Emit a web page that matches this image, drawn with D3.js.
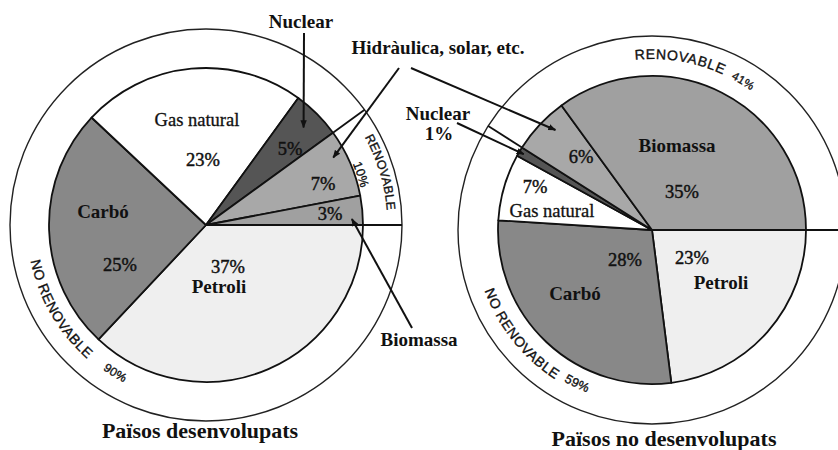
<!DOCTYPE html>
<html>
<head>
<meta charset="utf-8">
<script src="https://cdn.jsdelivr.net/npm/d3@7"></script>
<style>
body { margin: 0; background: #fff; }
svg { display: block; }
</style>
</head>
<body>
<script>
var sources = ['Petroli', 'Carbó', 'Gas natural', 'Nuclear', 'Hidràulica', 'Biomassa'];
var developed = [37, 25, 23, 5, 7, 3];
var developing = [23, 28, 7, 1, 6, 35];
var renewable = ['Hidràulica', 'Biomassa'];
var titles = ['Països desenvolupats', 'Països no desenvolupats'];

var w = 838;
var h = 450;

var color = d3.scaleOrdinal()
  .domain(sources)
  .range(['#efefef', '#888888', '#ffffff', '#555555', '#a8a8a8', '#a0a0a0']);

// layout of each pie; label offsets are relative to the pie centre
var charts = [
  {
    values: developed, title: titles[0], cx: 206, cy: 225, r: 157, R: 196,
    titleX: 200, titleY: 438, lineEnd: 196,
    labels: [
      {i: 0, name: [13, 61], pct: [22, 42]},
      {i: 1, name: [-103, -14], pct: [-86, 40]},
      {i: 2, name: [-9, -105], pct: [-3, -65]},
      {i: 3, pct: [84, -76]},
      {i: 4, pct: [117, -41]},
      {i: 5, pct: [124, -11]}
    ],
    ring: [
      {key: 'no', at: 150, r: 179, dir: -1, size: 14, ls: 0.5},
      {key: 'noPct', at: 121.5, r: 177.5, dir: -1, size: 12, ls: 0.3},
      {key: 'yes', at: 343.2, r: 181.5, dir: 1, size: 12.5, ls: 0.2},
      {key: 'yesPct', at: 342, r: 159, dir: 1, size: 12.5, ls: 0.2}
    ]
  },
  {
    values: developing, title: titles[1], cx: 652, cy: 230, r: 154, R: 194,
    titleX: 664, titleY: 446, lineEnd: 200,
    labels: [
      {i: 0, name: [69, 52], pct: [40, 28]},
      {i: 1, name: [-77, 63], pct: [-27, 30]},
      {i: 2, name: [-100, -19], pct: [-117, -43]},
      {i: 4, pct: [-71, -73]},
      {i: 5, name: [25, -85], pct: [30, -38]}
    ],
    ring: [
      {key: 'no', at: 141.5, r: 178, dir: -1, size: 14, ls: 0.5},
      {key: 'noPct', at: 116, r: 175, dir: -1, size: 12.5, ls: 0.3},
      {key: 'yes', at: 279.5, r: 171, dir: 1, size: 14, ls: 0.7},
      {key: 'yesPct', at: 301.5, r: 171, dir: 1, size: 11.5, ls: 0.3}
    ]
  }
];

// arrows: chart, slice index, position inside slice (fraction of angle), radius, tail
var arrows = [
  {c: 0, i: 3, t: 0.5, r: 138, from: [304, 33]},
  {c: 0, i: 4, t: 0.32, r: 144, from: [399, 68]},
  {c: 0, i: 5, t: 0.78, r: 146, from: [412, 328]},
  {c: 1, i: 3, t: 0.5, r: 149, from: [457, 123]},
  {c: 1, i: 4, t: 0.63, r: 139, from: [411, 68]}
];

var notes = [
  {text: 'Nuclear', x: 301, y: 28},
  {text: 'Hidràulica, solar, etc.', x: 438, y: 54},
  {text: 'Nuclear', x: 438, y: 120},
  {text: '1%', x: 439, y: 140},
  {text: 'Biomassa', x: 419, y: 346}
];

var serif = '"Liberation Serif", "Times New Roman", serif';

var svg = d3.select('body')
  .append('svg')
  .attr('width', w)
  .attr('height', h);

svg.append('defs').append('marker')
  .attr('id', 'arrow')
  .attr('viewBox', '0 0 10 10')
  .attr('refX', 9)
  .attr('refY', 5)
  .attr('markerWidth', 8)
  .attr('markerHeight', 8)
  .attr('markerUnits', 'userSpaceOnUse')
  .attr('orient', 'auto')
  .append('path')
  .attr('d', 'M0,1L10,5L0,9Z')
  .attr('fill', '#111');

var pie = d3.pie()
  .sort(null)
  .startAngle(Math.PI / 2)
  .endAngle(Math.PI / 2 + 2 * Math.PI);

// arc along the ring, angles in degrees clockwise from east
function arcD(cx, cy, r, a0, a1) {
  var rad = Math.PI / 180;
  var x0 = cx + r * Math.cos(a0 * rad), y0 = cy + r * Math.sin(a0 * rad);
  var x1 = cx + r * Math.cos(a1 * rad), y1 = cy + r * Math.sin(a1 * rad);
  var sweep = a1 > a0 ? 1 : 0;
  return 'M' + x0 + ',' + y0 + 'A' + r + ',' + r + ' 0 0 ' + sweep + ' ' + x1 + ',' + y1;
}

function polar(cx, cy, r, a) {
  return [cx + r * Math.sin(a), cy - r * Math.cos(a)];
}

var slicesByChart = [];

charts.forEach(function(c, ci) {
  var slices = pie(c.values);
  slicesByChart.push(slices);
  var g = svg.append('g');

  var renTotal = d3.sum(slices.filter(function(d, i) {
    return renewable.indexOf(sources[i]) >= 0;
  }), function(d) { return d.value; });
  var total = d3.sum(c.values);

  // outer ring
  g.append('circle')
    .attr('cx', c.cx)
    .attr('cy', c.cy)
    .attr('r', c.R)
    .attr('fill', '#fff')
    .attr('stroke', '#222')
    .attr('stroke-width', 1.4);

  // ring dividers: start of the pie and start of the renewable group
  var firstRen = slices[sources.indexOf(renewable[0])].startAngle;
  var p0 = polar(c.cx, c.cy, c.r, firstRen);
  var p1 = polar(c.cx, c.cy, c.R, firstRen);
  g.append('line')
    .attr('x1', p0[0]).attr('y1', p0[1])
    .attr('x2', p1[0]).attr('y2', p1[1])
    .attr('stroke', '#111')
    .attr('stroke-width', 1.8);
  g.append('line')
    .attr('x1', c.cx).attr('y1', c.cy)
    .attr('x2', c.cx + c.lineEnd).attr('y2', c.cy)
    .attr('stroke', '#111')
    .attr('stroke-width', 2);

  var arc = d3.arc().innerRadius(0).outerRadius(c.r);

  g.selectAll('path.slice')
    .data(slices)
    .enter()
    .append('path')
    .attr('class', 'slice')
    .attr('transform', 'translate(' + c.cx + ',' + c.cy + ')')
    .attr('d', arc)
    .attr('fill', function(d, i) { return color(sources[i]); })
    .attr('stroke', '#111')
    .attr('stroke-width', 1.8)
    .attr('stroke-linejoin', 'round');

  // slice labels
  c.labels.forEach(function(l) {
    var gas = sources[l.i] == 'Gas natural';
    if (l.name) {
      g.append('text')
        .attr('x', c.cx + l.name[0])
        .attr('y', c.cy + l.name[1])
        .attr('dy', '0.35em')
        .attr('text-anchor', 'middle')
        .attr('font-family', serif)
        .attr('font-size', gas ? '18.5px' : '19px')
        .attr('font-weight', gas ? 'normal' : 'bold')
        .attr('fill', '#111')
        .attr('stroke', gas ? '#111' : 'none')
        .attr('stroke-width', 0.3)
        .text(sources[l.i]);
    }
    g.append('text')
      .attr('x', c.cx + l.pct[0])
      .attr('y', c.cy + l.pct[1])
      .attr('dy', '0.35em')
      .attr('text-anchor', 'middle')
      .attr('font-family', serif)
      .attr('font-size', '18.5px')
      .attr('fill', '#111')
      .attr('stroke', '#111')
      .attr('stroke-width', 0.45)
      .text(c.values[l.i] + '%');
  });

  // ring texts
  var ringText = {
    no: 'NO RENOVABLE',
    noPct: (total - renTotal) + '%',
    yes: 'RENOVABLE',
    yesPct: renTotal + '%'
  };
  c.ring.forEach(function(rt, k) {
    var id = 'ring' + ci + '_' + k;
    g.append('path')
      .attr('id', id)
      .attr('d', arcD(c.cx, c.cy, rt.r, rt.at - rt.dir * 60, rt.at + rt.dir * 60))
      .attr('fill', 'none');
    g.append('text')
      .attr('font-family', '"Liberation Sans", Arial, sans-serif')
      .attr('font-size', rt.size + 'px')
      .attr('letter-spacing', rt.ls)
      .attr('fill', '#111')
      .attr('stroke', '#111')
      .attr('stroke-width', 0.35)
      .attr('text-anchor', 'middle')
      .append('textPath')
      .attr('href', '#' + id)
      .attr('startOffset', '50%')
      .text(ringText[rt.key]);
  });

  // title
  svg.append('text')
    .attr('x', c.titleX)
    .attr('y', c.titleY)
    .attr('text-anchor', 'middle')
    .attr('font-family', serif)
    .attr('font-size', '22px')
    .attr('font-weight', 'bold')
    .attr('fill', '#111')
    .text(c.title);
});

// pointer lines
arrows.forEach(function(a) {
  var c = charts[a.c];
  var s = slicesByChart[a.c][a.i];
  var ang = s.startAngle + a.t * (s.endAngle - s.startAngle);
  var p = polar(c.cx, c.cy, a.r, ang);
  svg.append('line')
    .attr('x1', a.from[0]).attr('y1', a.from[1])
    .attr('x2', p[0]).attr('y2', p[1])
    .attr('stroke', '#111')
    .attr('stroke-width', 2)
    .attr('marker-end', 'url(#arrow)');
});

svg.selectAll('text.note')
  .data(notes)
  .enter()
  .append('text')
  .attr('class', 'note')
  .attr('x', function(d) { return d.x; })
  .attr('y', function(d) { return d.y; })
  .attr('text-anchor', 'middle')
  .attr('font-family', serif)
  .attr('font-size', '19px')
  .attr('font-weight', 'bold')
  .attr('fill', '#111')
  .text(function(d) { return d.text; });
</script>
</body>
</html>
